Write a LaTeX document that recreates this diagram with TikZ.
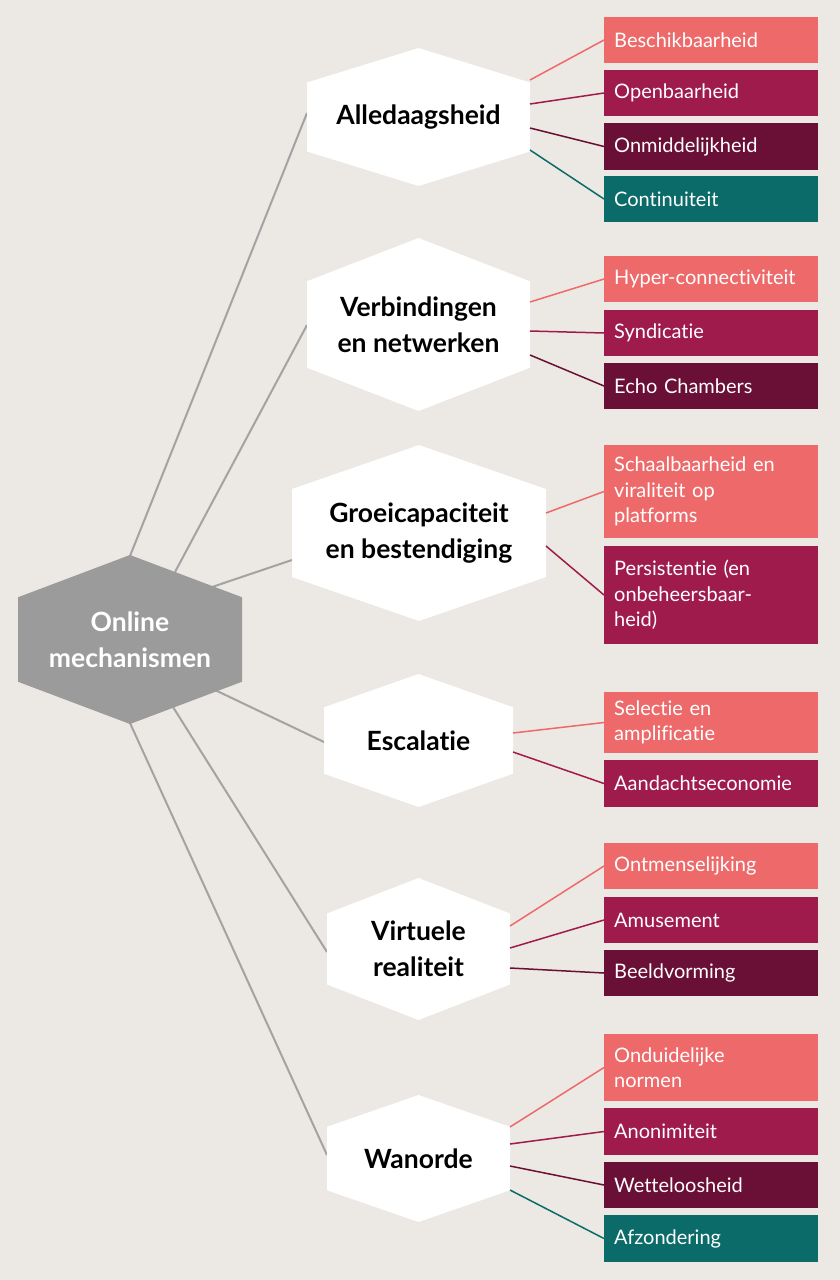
\documentclass[tikz,border=0pt]{standalone}
\usepackage{fontspec}
\setmainfont{Lato}[Ligatures={NoCommon,NoRequired,NoContextual}]
\definecolor{bg}{HTML}{ECE8E4}
\definecolor{kcor}{HTML}{EE6A6A}
\definecolor{kmag}{HTML}{9E1B4C}
\definecolor{kdrk}{HTML}{6A0F35}
\definecolor{ktea}{HTML}{0A6B68}
\definecolor{gh}{HTML}{9B9B9B}
\definecolor{gl}{HTML}{A3A3A3}
\newcommand{\hexag}[7]{% name, x1, x2, ytop, ybot, fill, text
  \pgfmathsetmacro{\xc}{(#2+#3)/2}\pgfmathsetmacro{\ya}{#4+(#5-#4)/4}\pgfmathsetmacro{\yb}{#4+3*(#5-#4)/4}\pgfmathsetmacro{\yc}{(#4+#5)/2}
  \fill[#6] (\xc,#4) -- (#3,\ya) -- (#3,\yb) -- (\xc,#5) -- (#2,\yb) -- (#2,\ya) -- cycle;
  \node[hexlab] (#1) at (\xc,\yc) {#7};}
\newcommand{\rbox}[5]{% name, ytop, ybot, color, text
  \fill[#4] (604,#2) rectangle (818,#3);
  \node[boxlab] (#1) at (604,{(#2+#3)/2}) {#5};}
\tikzset{
  hexlab/.style={font=\fontsize{26.5}{36}\selectfont\bfseries, align=center, text=black},
  boxlab/.style={anchor=west, font=\fontsize{20}{25.5}\selectfont, text=white, align=left, text width=200pt, inner xsep=10pt},
  gline/.style={draw=gl, line width=2pt},
  cline/.style={line width=1.5pt}
}
\begin{document}
\begin{tikzpicture}[x=1pt,y=-1pt]
\fill[bg] (0,0) rectangle (840,1280);
\useasboundingbox (0,0) rectangle (840,1280);
\coordinate (c1) at (130,556); \coordinate (c2) at (175,572); \coordinate (c3) at (212,587);
\coordinate (c4) at (215,690); \coordinate (c5) at (173,707); \coordinate (c6) at (130,723);
\coordinate (h1) at (307,113); \coordinate (h2) at (307,325); \coordinate (h3) at (292,560);
\coordinate (h4) at (324,742); \coordinate (h5) at (327,952); \coordinate (h6) at (327,1155);
\foreach \i in {1,...,6}{\draw[gline] (c\i) -- (h\i);}
\hexag{om}{18}{242}{555}{724}{gh}{\textcolor{white}{Online}\\\textcolor{white}{mechanismen}}
\hexag{a}{307}{530}{48}{186}{white}{Alledaagsheid}
\hexag{b}{307}{530}{238}{411}{white}{Verbindingen\\en netwerken}
\hexag{c}{292}{546}{445}{621}{white}{Groeicapaciteit\\en bestendiging}
\hexag{d}{324}{513}{674}{807}{white}{Escalatie}
\hexag{e}{327}{510}{878}{1020}{white}{Virtuele\\realiteit}
\hexag{f}{327}{510}{1095}{1222}{white}{Wanorde}
\rbox{a1}{17}{63}{kcor}{Beschikbaarheid}
\rbox{a2}{70}{116}{kmag}{Openbaarheid}
\rbox{a3}{123}{170}{kdrk}{Onmiddelijkheid}
\rbox{a4}{176}{222}{ktea}{Continuiteit}
\rbox{b1}{256}{302}{kcor}{Hyper-connectiviteit}
\rbox{b2}{310}{356}{kmag}{Syndicatie}
\rbox{b3}{363}{409}{kdrk}{Echo Chambers}
\rbox{c1}{445}{538}{kcor}{Schaalbaarheid en\\viraliteit op\\platforms}
\rbox{c2}{546}{644}{kmag}{Persistentie (en\\onbeheersbaar-\\heid)}
\rbox{d1}{692}{753}{kcor}{Selectie en\\amplificatie}
\rbox{d2}{760}{807}{kmag}{Aandachtseconomie}
\rbox{e1}{843}{889}{kcor}{Ontmenselijking}
\rbox{e2}{897}{943}{kmag}{Amusement}
\rbox{e3}{950}{996}{kdrk}{Beeldvorming}
\rbox{f1}{1034}{1101}{kcor}{Onduidelijke\\normen}
\rbox{f2}{1108}{1155}{kmag}{Anonimiteit}
\rbox{f3}{1162}{1208}{kdrk}{Wetteloosheid}
\rbox{f4}{1215}{1262}{ktea}{Afzondering}
\coordinate (pa1) at (530,80); \coordinate (pa2) at (530,104); \coordinate (pa3) at (530,128); \coordinate (pa4) at (530,150);
\draw[cline,kcor] (pa1) -- (a1.west); \draw[cline,kmag] (pa2) -- (a2.west);
\draw[cline,kdrk] (pa3) -- (a3.west); \draw[cline,ktea] (pa4) -- (a4.west);
\coordinate (pb1) at (530,302); \coordinate (pb2) at (530,331); \coordinate (pb3) at (530,355);
\draw[cline,kcor] (pb1) -- (b1.west); \draw[cline,kmag] (pb2) -- (b2.west); \draw[cline,kdrk] (pb3) -- (b3.west);
\coordinate (pc1) at (546,513); \coordinate (pc2) at (546,546);
\draw[cline,kcor] (pc1) -- (c1.west); \draw[cline,kmag] (pc2) -- (c2.west);
\coordinate (pd1) at (513,733); \coordinate (pd2) at (513,752);
\draw[cline,kcor] (pd1) -- (d1.west); \draw[cline,kmag] (pd2) -- (d2.west);
\coordinate (pe1) at (510,926); \coordinate (pe2) at (510,948); \coordinate (pe3) at (510,968);
\draw[cline,kcor] (pe1) -- (e1.west); \draw[cline,kmag] (pe2) -- (e2.west); \draw[cline,kdrk] (pe3) -- (e3.west);
\coordinate (pf1) at (510,1127); \coordinate (pf2) at (510,1144); \coordinate (pf3) at (510,1166); \coordinate (pf4) at (510,1190);
\draw[cline,kcor] (pf1) -- (f1.west); \draw[cline,kmag] (pf2) -- (f2.west);
\draw[cline,kdrk] (pf3) -- (f3.west); \draw[cline,ktea] (pf4) -- (f4.west);
\end{tikzpicture}
\end{document}
